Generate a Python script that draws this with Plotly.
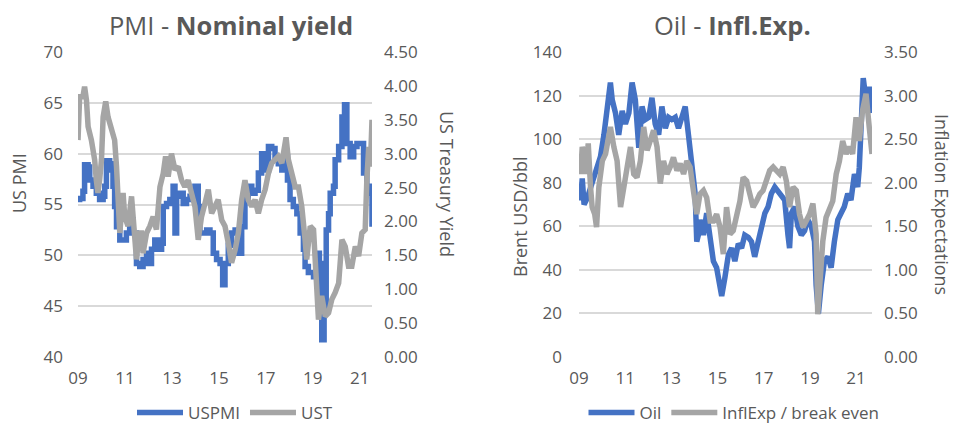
import plotly.graph_objects as go

# ---------------- data ----------------
pmi_x = [2009.00, 2009.07, 2009.21, 2009.28, 2009.43, 2009.50, 2009.64, 2009.78, 2009.92, 2010.07,
         2010.14, 2010.21, 2010.35, 2010.42, 2010.49, 2010.56, 2010.64, 2010.78, 2010.92, 2011.06,
         2011.20, 2011.35, 2011.49, 2011.63, 2011.77, 2011.92, 2011.99, 2012.13, 2012.27, 2012.41,
         2012.56, 2012.63, 2012.77, 2012.91, 2013.05, 2013.13, 2013.20, 2013.34, 2013.48, 2013.62,
         2013.77, 2013.98, 2014.12, 2014.19, 2014.33, 2014.48, 2014.62, 2014.76, 2014.90, 2015.05,
         2015.16, 2015.26, 2015.40, 2015.54, 2015.69, 2015.83, 2015.97, 2016.11, 2016.25, 2016.40,
         2016.54, 2016.68, 2016.82, 2016.97, 2017.11, 2017.25, 2017.39, 2017.53, 2017.68, 2017.82,
         2017.92, 2018.03, 2018.17, 2018.32, 2018.46, 2018.60, 2018.67, 2018.81, 2019.03, 2019.17,
         2019.28, 2019.38, 2019.48, 2019.57, 2019.67, 2019.74, 2019.88, 2019.95, 2020.10, 2020.24,
         2020.35, 2020.45, 2020.59, 2020.74, 2020.88, 2021.02, 2021.16, 2021.30, 2021.45, 2021.52]
pmi_v = [55.5, 55.6, 56.3, 58.9, 58.7, 57.4, 56.8, 56.1, 55.5, 55.8,
         56.8, 59.3, 59.0, 58.4, 56.8, 54.8, 52.8, 51.5, 51.5, 52.2,
         53.5, 52.2, 49.2, 48.9, 49.6, 50.2, 49.2, 50.6, 51.5, 50.6,
         51.2, 54.8, 55.1, 55.5, 56.8, 52.2, 55.8, 56.1, 55.1, 55.5,
         55.8, 56.8, 54.8, 52.2, 52.2, 52.5, 52.2, 50.2, 49.6, 49.2,
         47.1, 49.2, 51.0, 52.2, 52.5, 50.2, 52.8, 55.5, 56.8, 56.1,
         56.4, 58.1, 60.0, 58.4, 60.7, 60.5, 59.4, 59.0, 58.4, 59.7,
         57.4, 55.5, 54.8, 54.1, 52.2, 50.6, 48.9, 48.3, 47.9, 50.2,
         49.2, 41.7, 44.3, 52.5, 54.1, 56.1, 56.8, 59.4, 60.7, 63.6,
         64.8, 61.0, 59.7, 60.7, 61.0, 61.0, 58.1, 56.8, 56.1, 52.8]

ust_x = [2009.00, 2009.03, 2009.07, 2009.21, 2009.28, 2009.36, 2009.43, 2009.57, 2009.71, 2009.78,
         2009.85, 2009.92, 2010.00, 2010.07, 2010.18, 2010.28, 2010.42, 2010.56, 2010.64, 2010.71,
         2010.78, 2010.85, 2010.92, 2010.99, 2011.13, 2011.28, 2011.35, 2011.49, 2011.60, 2011.70,
         2011.77, 2011.92, 2012.06, 2012.20, 2012.34, 2012.49, 2012.63, 2012.73, 2012.84, 2012.98,
         2013.13, 2013.27, 2013.41, 2013.55, 2013.69, 2013.84, 2013.98, 2014.12, 2014.26, 2014.41,
         2014.55, 2014.69, 2014.83, 2014.97, 2015.12, 2015.26, 2015.40, 2015.54, 2015.69, 2015.83,
         2015.97, 2016.11, 2016.25, 2016.40, 2016.54, 2016.68, 2016.82, 2016.97, 2017.11, 2017.25,
         2017.39, 2017.53, 2017.68, 2017.86, 2017.96, 2018.10, 2018.25, 2018.39, 2018.53, 2018.67,
         2018.74, 2018.89, 2019.03, 2019.17, 2019.24, 2019.38, 2019.53, 2019.67, 2019.81, 2019.95,
         2020.10, 2020.24, 2020.38, 2020.52, 2020.66, 2020.81, 2020.95, 2021.09, 2021.23, 2021.30,
         2021.38, 2021.45, 2021.52]
ust_v = [3.20, 3.84, 3.84, 3.84, 3.99, 3.79, 3.40, 3.20, 2.91, 2.61,
         2.42, 2.61, 2.91, 3.54, 3.77, 3.54, 3.40, 3.20, 2.81, 2.32,
         1.83, 2.12, 2.42, 2.07, 1.93, 2.37, 2.07, 1.44, 1.83, 1.83,
         1.53, 1.83, 1.93, 2.07, 1.88, 2.51, 2.71, 2.96, 2.66, 3.00,
         2.76, 2.81, 2.61, 2.51, 2.61, 2.37, 2.22, 1.73, 2.07, 2.27,
         2.47, 2.12, 2.22, 2.32, 2.02, 1.93, 1.68, 1.39, 1.58, 1.83,
         2.32, 2.61, 2.32, 2.22, 2.32, 2.12, 2.32, 2.47, 2.71, 2.86,
         2.91, 2.96, 2.86, 3.24, 2.91, 2.71, 2.51, 2.51, 2.22, 1.73,
         1.44, 1.93, 1.88, 1.00, 0.55, 0.90, 0.60, 0.65, 0.85, 0.95,
         1.09, 1.73, 1.63, 1.34, 1.34, 1.63, 1.49, 1.83, 1.88, 2.61,
         3.10, 2.81, 3.50]

oil_x = [2009.00, 2009.07, 2009.14, 2009.22, 2009.36, 2009.50, 2009.65, 2009.79, 2009.93, 2010.08,
         2010.22, 2010.36, 2010.44, 2010.58, 2010.72, 2010.87, 2011.01, 2011.16, 2011.30, 2011.44,
         2011.59, 2011.73, 2011.87, 2012.02, 2012.16, 2012.30, 2012.45, 2012.59, 2012.74, 2012.88,
         2013.02, 2013.17, 2013.31, 2013.45, 2013.60, 2013.74, 2013.89, 2014.03, 2014.10, 2014.17,
         2014.24, 2014.39, 2014.53, 2014.68, 2014.82, 2014.96, 2015.11, 2015.18, 2015.32, 2015.47,
         2015.61, 2015.75, 2015.90, 2016.04, 2016.18, 2016.33, 2016.47, 2016.61, 2016.76, 2016.90,
         2017.05, 2017.19, 2017.33, 2017.48, 2017.62, 2017.76, 2017.91, 2018.05, 2018.12, 2018.20,
         2018.34, 2018.48, 2018.63, 2018.77, 2018.91, 2019.06, 2019.20, 2019.27, 2019.37, 2019.49,
         2019.63, 2019.78, 2019.92, 2020.06, 2020.21, 2020.35, 2020.49, 2020.64, 2020.78, 2020.93,
         2021.07, 2021.14, 2021.21, 2021.31, 2021.43, 2021.57, 2021.69]
oil_v = [79, 72, 82, 70, 73, 78, 83, 87, 92, 102,
         113, 126, 118, 112, 102, 113, 107, 112, 126, 118,
         96, 115, 109, 110, 119, 107, 102, 115, 105, 110,
         109, 110, 105, 110, 115, 102, 90, 75, 53, 56,
         63, 56, 66, 52, 44, 41, 32, 28, 36.5, 47,
         50, 44, 52, 50, 56, 55, 53, 46, 53, 60,
         66, 69, 75, 78, 76, 75, 72, 56, 50, 66,
         69, 60, 56, 58, 63, 60, 53, 33, 20, 33,
         44, 46, 41, 53, 63, 66, 69, 75, 72, 84,
         78, 87, 102, 128, 118, 124, 112]

infl_x = [2009.00, 2009.07, 2009.14, 2009.22, 2009.29, 2009.40, 2009.50, 2009.57, 2009.68, 2009.76,
          2009.86, 2010.01, 2010.15, 2010.29, 2010.36, 2010.51, 2010.65, 2010.80, 2010.94, 2011.08,
          2011.23, 2011.37, 2011.51, 2011.66, 2011.80, 2011.95, 2012.09, 2012.23, 2012.38, 2012.52,
          2012.66, 2012.81, 2012.95, 2013.09, 2013.24, 2013.38, 2013.53, 2013.67, 2013.81, 2013.96,
          2014.10, 2014.24, 2014.39, 2014.53, 2014.68, 2014.82, 2014.96, 2015.11, 2015.25, 2015.39,
          2015.54, 2015.68, 2015.82, 2015.97, 2016.11, 2016.26, 2016.40, 2016.54, 2016.69, 2016.83,
          2016.97, 2017.12, 2017.26, 2017.41, 2017.55, 2017.69, 2017.84, 2017.98, 2018.12, 2018.27,
          2018.41, 2018.55, 2018.70, 2018.84, 2018.99, 2019.13, 2019.27, 2019.34, 2019.45, 2019.56,
          2019.70, 2019.85, 2019.99, 2020.14, 2020.28, 2020.42, 2020.57, 2020.71, 2020.85, 2021.00,
          2021.14, 2021.28, 2021.43, 2021.57, 2021.69]
infl_v = [2.33, 2.10, 2.41, 2.33, 2.10, 2.45, 1.95, 1.72, 1.64, 1.49,
          1.95, 2.25, 2.33, 2.56, 2.64, 2.41, 2.25, 1.72, 1.95, 2.10,
          2.41, 2.10, 2.06, 2.25, 2.64, 2.37, 2.48, 2.60, 2.41, 1.99,
          2.25, 2.10, 2.18, 2.29, 2.14, 2.22, 2.10, 2.25, 2.18, 1.87,
          1.64, 1.87, 1.91, 1.83, 1.56, 1.56, 1.64, 1.49, 1.18, 1.72,
          1.41, 1.45, 1.60, 1.79, 2.06, 2.02, 1.87, 1.72, 1.79, 1.87,
          1.91, 2.02, 2.14, 2.18, 2.14, 2.10, 2.18, 2.02, 1.72, 1.95,
          1.91, 1.64, 1.49, 1.56, 1.64, 1.76, 1.41, 0.49, 1.03, 1.33,
          1.60, 1.72, 1.79, 2.10, 2.25, 2.48, 2.33, 2.41, 2.33, 2.75,
          2.48, 2.83, 3.02, 2.64, 2.33]

x_tickvals = [2009, 2011, 2013, 2015, 2017, 2019, 2021]
x_ticktext = ["09", "11", "13", "15", "17", "19", "21"]

# ---------------- styling ----------------
BLUE = "#4472C4"
GRAY = "#A5A5A5"
TXT = "#595959"
GRID = "#D9D9D9"
FONT = "Open Sans"
W, H = 954, 433
LW = 5.5

fig = go.Figure()
fig.add_trace(go.Scatter(x=pmi_x, y=pmi_v, name="USPMI", mode="lines", line=dict(color=BLUE, width=LW, shape="hv"),
                         xaxis="x", yaxis="y", legend="legend"))
fig.add_trace(go.Scatter(x=ust_x, y=ust_v, name="UST", mode="lines", line=dict(color=GRAY, width=LW),
                         xaxis="x", yaxis="y2", legend="legend"))
fig.add_trace(go.Scatter(x=oil_x, y=oil_v, name="Oil", mode="lines", line=dict(color=BLUE, width=LW),
                         xaxis="x2", yaxis="y3", legend="legend2"))
fig.add_trace(go.Scatter(x=infl_x, y=infl_v, name="InflExp / break even", mode="lines", line=dict(color=GRAY, width=LW),
                         xaxis="x2", yaxis="y4", legend="legend2"))

ybot = (H - 357) / H
ytop = (H - 52) / H
d1 = [78 / W, 372 / W]
d2 = [579 / W, 872 / W]

tickfont = dict(family=FONT, size=17, color=TXT)
xcommon = dict(tickmode="array", tickvals=x_tickvals, ticktext=x_ticktext, showgrid=False, zeroline=False,
               showline=False, ticks="", tickfont=tickfont, ticklabelstandoff=9, fixedrange=True, automargin=False)
ycommon = dict(zeroline=False, showline=False, ticks="", tickfont=tickfont, fixedrange=True, automargin=False)

legfont = dict(family=FONT, size=17, color=TXT)
fig.update_layout(
    width=W, height=H,
    margin=dict(l=0, r=0, t=0, b=0, autoexpand=False),
    paper_bgcolor="white", plot_bgcolor="white",
    font=dict(family=FONT, color=TXT),
    xaxis=dict(domain=d1, range=[2009, 2021.52], anchor="y", **xcommon),
    xaxis2=dict(domain=d2, range=[2009, 2021.69], anchor="y3", **xcommon),
    yaxis=dict(domain=[ybot, ytop], range=[40, 70], dtick=5, tick0=40, showgrid=True, gridcolor=GRID, gridwidth=1.5,
               anchor="x", ticklabelstandoff=14, **ycommon),
    yaxis2=dict(range=[0, 4.5], dtick=0.5, tick0=0, tickformat=".2f", overlaying="y", side="right", anchor="x",
                showgrid=False, ticklabelstandoff=11, **ycommon),
    yaxis3=dict(domain=[ybot, ytop], range=[0, 140], dtick=20, tick0=0, showgrid=True, gridcolor=GRID, gridwidth=1.5,
                anchor="x2", ticklabelstandoff=16, **ycommon),
    yaxis4=dict(range=[0, 3.5], dtick=0.5, tick0=0, tickformat=".2f", overlaying="y3", side="right", anchor="x2",
                showgrid=False, ticklabelstandoff=11, **ycommon),
    legend=dict(orientation="h", x=235 / W, xanchor="center", y=2 / H, yanchor="bottom",
                font=legfont, itemwidth=46, bgcolor="rgba(0,0,0,0)"),
    legend2=dict(orientation="h", x=734 / W, xanchor="center", y=2 / H, yanchor="bottom",
                 font=legfont, itemwidth=46, bgcolor="rgba(0,0,0,0)"),
    showlegend=True,
)

annos = [
    dict(text="PMI - <b>Nominal yield</b>", x=231 / W, y=(H - 25) / H, font=dict(size=25.5, color=TXT, family=FONT)),
    dict(text="Oil - <b>Infl.Exp.</b>", x=732 / W, y=(H - 25) / H, font=dict(size=25.5, color=TXT, family=FONT)),
    dict(text="US PMI", x=19 / W, y=(H - 183) / H, textangle=-90, font=dict(size=18, color=TXT, family=FONT)),
    dict(text="US Treasury Yield", x=447 / W, y=(H - 184) / H, textangle=90, font=dict(size=18, color=TXT, family=FONT)),
    dict(text="Brent USD/bbl", x=520 / W, y=(H - 217) / H, textangle=-90, font=dict(size=18, color=TXT, family=FONT)),
    dict(text="Inflation Expectations", x=942 / W, y=(H - 204) / H, textangle=90, font=dict(size=18, color=TXT, family=FONT)),
]
for a in annos:
    fig.add_annotation(xref="paper", yref="paper", showarrow=False, xanchor="center", yanchor="middle", **a)

fig.write_html("out.html", config={"displayModeBar": False},
               post_script="document.body.style.margin='0px';document.body.style.overflow='hidden';")
